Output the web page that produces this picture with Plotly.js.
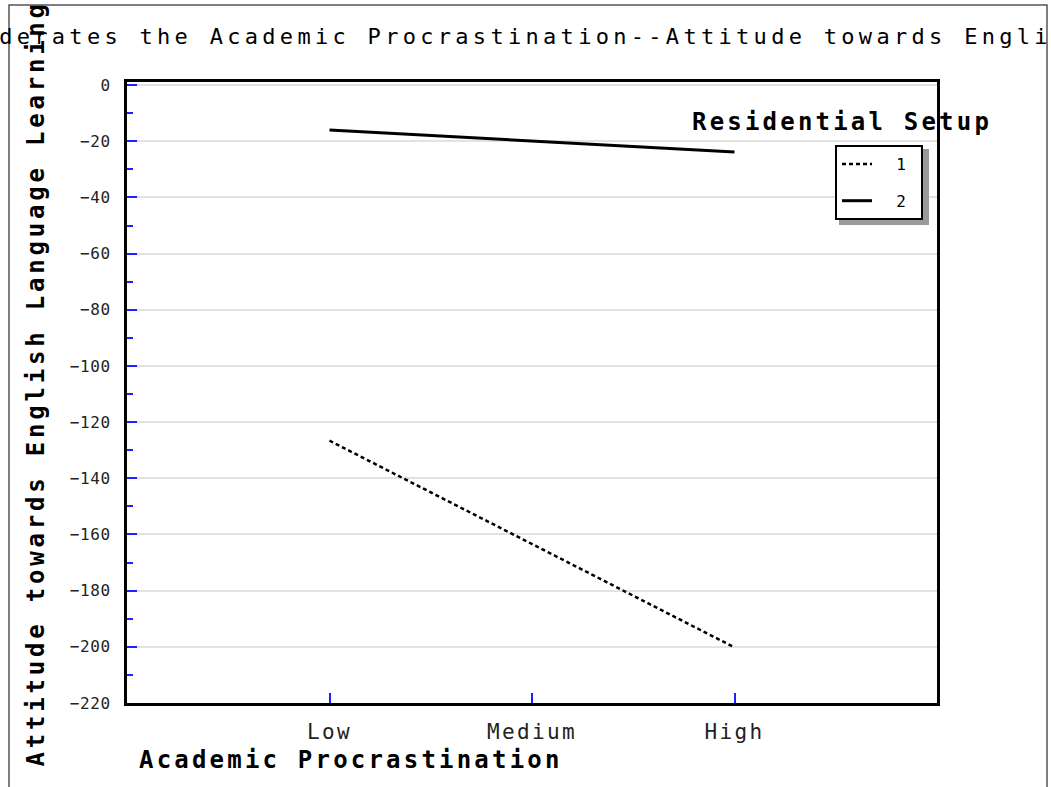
<!DOCTYPE html>
<html>
<head>
<meta charset="utf-8">
<script src="https://cdn.plot.ly/plotly-3.0.1.min.js"></script>
<style>
  html, body { margin: 0; padding: 0; background: #fff; }
  #chart { width: 1051px; height: 787px; }
  .gtitle { letter-spacing: 4.3px; }
  .annotation-text { letter-spacing: 3.2px; }
  .annotation[data-index="1"] .annotation-text { letter-spacing: 3.8px; }
  .xtick text { letter-spacing: 2.4px; }
  .ytick text { letter-spacing: 0.6px; }
</style>
</head>
<body>
<div id="chart"></div>
<script>
// ---- data ----
const categories = ['Low', 'Medium', 'High'];
const series1 = [-126.6, -163.3, -200.2];
const series2 = [-16.0, -19.8, -23.8];
const seriesNames = ['1', '2'];
const chartTitle = 'Residential Setup Moderates the Academic Procrastination--Attitude towards English Language Learning';
const xTitle = 'Academic Procrastination';
const yTitle = 'Attitude towards English Language Learning';
const legendTitle = 'Residential Setup';

const mono = 'DejaVu Sans Mono, Liberation Mono, monospace';
const pad = s => '\u00a0\u00a0' + s + '\u00a0';

const traces = [
  {
    x: categories, y: series1, name: pad(seriesNames[0]), legendgroup: 'g1',
    type: 'scatter', mode: 'lines',
    line: { color: '#000', width: 2.5, dash: '4px,3px' }
  },
  {
    x: categories, y: series2, name: pad(seriesNames[1]), legendgroup: 'g2',
    type: 'scatter', mode: 'lines',
    line: { color: '#000', width: 3 }
  }
];

const L = 127, R = 937, T = 82, B = 703;
const W = R - L, H = B - T;
const px = x => (x - L) / W;
const py = y => (B - y) / H;

const layout = {
  width: 1051, height: 787,
  margin: { l: L, r: 1051 - R, t: T, b: 787 - B },
  paper_bgcolor: '#fff', plot_bgcolor: '#fff',
  showlegend: true,
  title: {
    text: chartTitle, xref: 'container', x: 0.5, xanchor: 'center',
    yref: 'container', y: 1 - 36 / 787, yanchor: 'middle',
    font: { family: mono, size: 22, color: '#000' }
  },
  xaxis: {
    type: 'category', range: [-1, 3],
    showgrid: false, zeroline: false,
    showline: true, linecolor: '#000', linewidth: 3, mirror: true,
    ticks: 'inside', ticklen: 10, tickwidth: 2, tickcolor: '#2020ff',
    tickfont: { family: mono, size: 21, color: '#222' },
    ticklabelstandoff: 8
  },
  yaxis: {
    range: [-220, 1.1], dtick: 20, tick0: 0,
    showgrid: true, gridcolor: '#e2e2e2', gridwidth: 2, zeroline: false,
    showline: true, linecolor: '#000', linewidth: 3, mirror: true,
    ticks: 'inside', ticklen: 10, tickwidth: 2, tickcolor: '#2020ff',
    tickfont: { family: mono, size: 16, color: '#222' },
    ticklabelstandoff: 10,
    minor: { dtick: 10, ticks: 'inside', ticklen: 6, tickwidth: 2, tickcolor: '#2020ff', showgrid: false }
  },
  legend: {
    x: px(835), y: py(145), xanchor: 'left', yanchor: 'top',
    bgcolor: '#fff', bordercolor: '#000', borderwidth: 2,
    font: { family: mono, size: 16, color: '#000' },
    traceorder: 'grouped', tracegroupgap: 13, itemwidth: 30
  },
  annotations: [
    {
      text: xTitle, xref: 'paper', yref: 'paper',
      x: px(137), y: py(760), xanchor: 'left', yanchor: 'middle',
      showarrow: false, font: { family: mono, size: 24, color: '#000', weight: 'bold' }
    },
    {
      text: yTitle, xref: 'paper', yref: 'paper', textangle: -90,
      x: px(36), y: py(384), xanchor: 'center', yanchor: 'middle',
      showarrow: false, font: { family: mono, size: 24, color: '#000', weight: 'bold' }
    },
    {
      text: legendTitle, xref: 'paper', yref: 'paper',
      x: px(842), y: py(122), xanchor: 'center', yanchor: 'middle',
      showarrow: false, font: { family: mono, size: 24, color: '#000', weight: 'bold' }
    }
  ],
  shapes: [
    {
      type: 'rect', xref: 'paper', yref: 'paper', layer: 'below',
      x0: px(9), x1: px(1047), y0: py(800), y1: py(5),
      line: { color: '#555', width: 1.5 }, fillcolor: 'rgba(0,0,0,0)'
    },
    {
      type: 'rect', xref: 'paper', yref: 'paper', layer: 'above',
      x0: px(839), x1: px(929), y0: py(225), y1: py(149),
      line: { width: 0 }, fillcolor: '#9a9a9a'
    }
  ]
};

Plotly.newPlot('chart', traces, layout, { displayModeBar: false, staticPlot: true });
</script>
</body>
</html>
